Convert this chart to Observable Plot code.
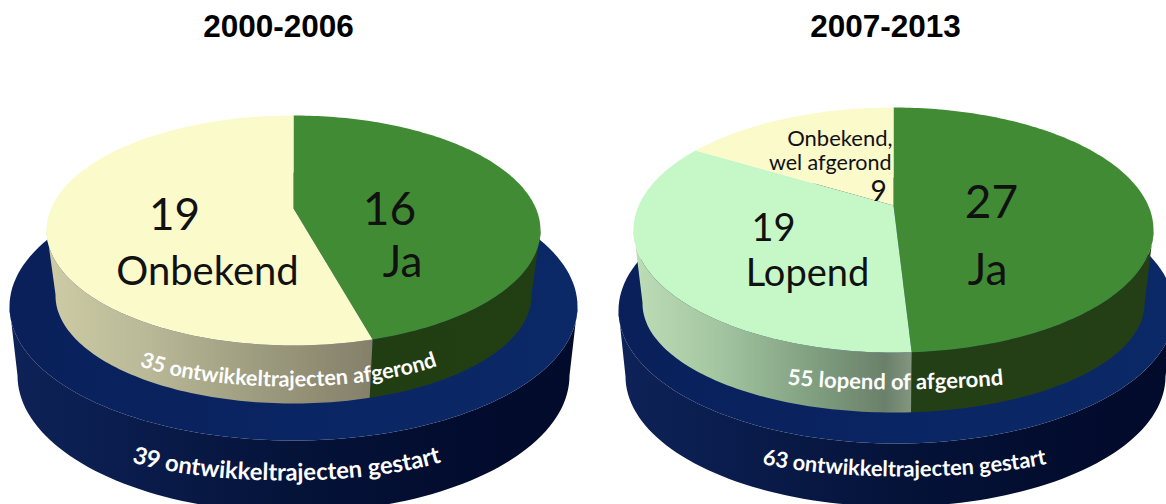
<!DOCTYPE html>
<html><head><meta charset="utf-8">
<style>html,body{margin:0;padding:0;background:#fff;overflow:hidden}</style>
<script src="https://cdn.jsdelivr.net/npm/d3@7"></script>
<script src="https://cdn.jsdelivr.net/npm/@observablehq/plot@0.6"></script>
</head><body><div id="chart"></div>
<script>
// data
const periods = ["2000-2006", "2007-2013"];
const categories2000 = ["Ja", "Onbekend"];
const values2000 = [16, 19];
const categories2007 = ["Ja", "Lopend", "Onbekend, wel afgerond"];
const values2007 = [27, 19, 9];
const ringLabels2000 = ["35 ontwikkeltrajecten afgerond", "39 ontwikkeltrajecten gestart"];
const ringLabels2007 = ["55 lopend of afgerond", "63 ontwikkeltrajecten gestart"];

// styling and layout
const colors = {Ja: "#408b34", Onbekend: "#fbfacb", Lopend: "#c5f8c6", "Onbekend, wel afgerond": "#fbfacb"};
const walls = {Ja: "url(#wallJa)", Onbekend: "url(#wallA)", Lopend: "url(#wallB)", "Onbekend, wel afgerond": "url(#wallA)"};
const layouts = [
  {cx: 293, top: {cy: 230, rx: 247, ry: 115}, low: {cy: 295, rx: 238, ry: 108}, apex: 208,
   base: {top: {cx: 293, cy: 306, rx: 284, ry: 134}, low: {cx: 293, cy: 375, rx: 276, ry: 137}}},
  {cx: 893, top: {cy: 229.5, rx: 260, ry: 122.5}, low: {cy: 303, rx: 251, ry: 109}, apex: 205,
   base: {top: {cx: 896, cy: 310, rx: 278, ry: 133}, low: {cx: 895, cy: 376, rx: 270, ry: 130}}}
];

// A pie slice on the tilted disc: the angle comes from the data, then a projective
// map sends the disc's centre to the apex seen in the picture.
function unit(theta, k) {
  const x = Math.sin(theta), y = Math.cos(theta), d = 1 + k * y;
  return [x * Math.sqrt(1 - k * k) / d, (y + k) / d];
}
function arcPoints(a0, a1, k) {
  const n = Math.max(2, Math.ceil((a1 - a0) / 0.02));
  return d3.range(n + 1).map(i => unit(a0 + (a1 - a0) * i / n, k));
}
const place = (cx, e) => ([u, v]) => ({x: cx + e.rx * u, y: e.cy - e.ry * v});

const faces = [], sides = [], bases = [], baseSides = [];
function addPie(cats, vals, L, pi) {
  const total = d3.sum(vals);
  const k = (L.top.cy - L.apex) / L.top.ry;
  let cum = 0;
  cats.forEach((c, i) => {
    const a0 = 2 * Math.PI * cum / total, a1 = 2 * Math.PI * (cum + vals[i]) / total;
    cum += vals[i];
    const arc = arcPoints(a0, a1, k);
    faces.push({fill: colors[c], pts: [{x: L.cx, y: L.apex}, ...arc.map(place(L.cx, L.top))]});
    const front = arc.filter(([, v]) => v <= 0.01);   // only the front of the disc shows a wall
    if (front.length > 1) sides.push({fill: walls[c],
      pts: [...front.map(place(L.cx, L.top)), ...front.slice().reverse().map(place(L.cx, L.low))]});
  });
  const half = d3.range(0, 181, 2).map(d => (90 + d) * Math.PI / 180).map(t => [Math.sin(t), Math.cos(t)]);
  const all = d3.range(0, 361, 2).map(d => d * Math.PI / 180).map(t => [Math.sin(t), Math.cos(t)]);
  const B = L.base;
  bases.push({fill: `url(#navyFace${pi})`, pts: all.map(place(B.top.cx, B.top))});
  baseSides.push({fill: `url(#navySide${pi})`,
    pts: [...half.map(place(B.top.cx, B.top)), ...half.slice().reverse().map(place(B.low.cx, B.low))]});
}
addPie(categories2000, values2000, layouts[0], 0);
addPie(categories2007, values2007, layouts[1], 1);

const shape = s => Plot.line(s.pts, {x: "x", y: "y", fill: s.fill, stroke: "none", curve: "linear"});

// gradient definitions, in the same pixel space as the scales
function grad(id, x0, x1, stops) {
  return `<linearGradient id="${id}" gradientUnits="userSpaceOnUse" x1="${x0}" x2="${x1}" y1="0" y2="0">` +
    stops.map(([o, c]) => `<stop offset="${o}" stop-color="${c}"/>`).join("") + `</linearGradient>`;
}
const navyFace = [[0, "#09205a"], [0.5, "#0a2563"], [1, "#0b2966"]];
const navySide = [[0, "#0e2258"], [0.15, "#0b1e50"], [0.5, "#051339"], [0.8, "#020c2e"], [1, "#020b2b"]];
const defsMark = () => {
  const g = document.createElementNS("http://www.w3.org/2000/svg", "g");
  g.innerHTML = "<defs>" +
    grad("wallA", 46, 370, [[0, "#cdcca5"], [0.3, "#bab998"], [0.7, "#9a987c"], [1, "#85806a"]]) +
    grad("wallB", 636, 912, [[0, "#bcdcb6"], [0.3, "#a3c5a0"], [0.65, "#7f9e7f"], [0.9, "#6a806a"], [1, "#849780"]]) +
    grad("wallJa", 370, 1150, [[0, "#213e13"], [1, "#243f15"]]) +
    grad("navyFace0", 9, 576, navyFace) +
    grad("navyFace1", 618, 1174, navyFace) +
    grad("navySide0", 9, 576, navySide) +
    grad("navySide1", 618, 1174, navySide) +
    "</defs>";
  return g;
};

// text laid along a smile-shaped arc: the real text is moved into a textPath
let pathCount = 0;
function ringText(text, cx, cy, rx, ry, size) {
  const id = `ring${pathCount++}`;
  return Plot.text([text], {
    x: () => cx, y: () => cy + ry, text: d => d, fill: "white", fontFamily: "Lato", fontWeight: 700, fontSize: size,
    render(index, scales, values, dims, ctx, next) {
      const g = next(index, scales, values, dims, ctx);
      const t = g.querySelector("text");
      const ns = "http://www.w3.org/2000/svg";
      const p = document.createElementNS(ns, "path");
      p.setAttribute("id", id);
      p.setAttribute("fill", "none");
      p.setAttribute("d", `M${cx - rx},${cy}A${rx},${ry} 0 0 0 ${cx + rx},${cy}`);
      g.prepend(p);
      const tp = document.createElementNS(ns, "textPath");
      tp.setAttribute("href", `#${id}`);
      tp.setAttribute("startOffset", "50%");
      tp.textContent = t.textContent;
      t.textContent = "";
      t.removeAttribute("transform");
      t.removeAttribute("x"); t.removeAttribute("y"); t.removeAttribute("dy");
      t.setAttribute("text-anchor", "middle");
      t.appendChild(tp);
      return g;
    }
  });
}

const labels = [
  {t: "19", x: 174, y: 215, s: 44},
  {t: "Onbekend", x: 207, y: 272, s: 40},
  {t: "16", x: 389, y: 210, s: 46},
  {t: "Ja", x: 402, y: 262, s: 44},
  {t: "Onbekend,", x: 892, y: 138, s: 22, a: "end"},
  {t: "wel afgerond", x: 891, y: 163, s: 21.5, a: "end"},
  {t: "9", x: 878, y: 192, s: 28},
  {t: "27", x: 991, y: 203, s: 46},
  {t: "Ja", x: 987, y: 270, s: 44},
  {t: "19", x: 773, y: 228, s: 38},
  {t: "Lopend", x: 807, y: 273, s: 38}
];
const textMark = l => Plot.text([l], {x: "x", y: "y", text: "t", fontSize: l.s, fontFamily: "Lato", fill: "#111",
  textAnchor: l.a || "middle", lineAnchor: "middle"});

const chart = Plot.plot({
  width: 1166, height: 504, margin: 0,
  x: {domain: [0, 1166], range: [0, 1166], axis: null},
  y: {domain: [0, 504], range: [0, 504], axis: null},
  style: {background: "white"},
  marks: [
    defsMark,
    ...baseSides.map(shape),
    ...bases.map(shape),
    ...sides.map(shape),
    ...faces.map(shape),
    ...labels.map(textMark),
    ringText(ringLabels2000[0], 288, 332, 190, 54, 21.6),
    ringText(ringLabels2000[1], 286, 430, 200, 50, 23.8),
    ringText(ringLabels2007[0], 895, 351, 220, 38, 22),
    ringText(ringLabels2007[1], 904, 434, 200, 42, 21.8),
    Plot.text(periods, {x: [278, 885], y: [26, 26], text: d => d, fontFamily: "Liberation Sans", fontWeight: 700, fontSize: 31.5, fill: "black"})
  ]
});
document.getElementById("chart").append(chart);
</script></body></html>
